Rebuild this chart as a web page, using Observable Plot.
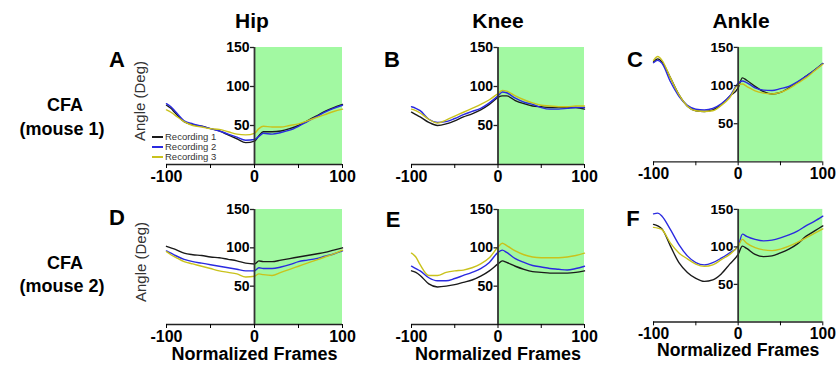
<!DOCTYPE html>
<html><head><meta charset="utf-8">
<script src="https://cdn.jsdelivr.net/npm/d3@7"></script>
<script src="https://cdn.jsdelivr.net/npm/@observablehq/plot@0.6"></script>
<style>
body{margin:0;background:#fff;}
#fig{position:relative;width:836px;height:368px;overflow:hidden;font-family:"Liberation Sans",Arial,sans-serif;font-weight:bold;color:#000;}
.lab{position:absolute;transform:translate(-50%,-50%);white-space:nowrap;line-height:1;}
.ylab{position:absolute;transform:translate(-50%,-50%) rotate(-90deg);white-space:nowrap;line-height:1;font-weight:normal;font-size:15px;color:#333;}
.panel{position:absolute;}
.leg{position:absolute;font-weight:normal;font-size:9.5px;color:#333;line-height:1;white-space:nowrap;}
.sw{position:absolute;height:1.5px;width:11px;}
</style></head><body><div id="fig"></div>
<script>
// ---- data ----
const frames = [-100,-95,-90,-80,-70,-60,-50,-40,-30,-20,-10,0,5,10,20,30,40,50,60,70,80,90,100];
const joints = ["Hip","Knee","Ankle"];
const mouseLabels = [["CFA","(mouse 1)"],["CFA","(mouse 2)"]];
const recordings = ["Recording 1","Recording 2","Recording 3"];
const panelLetters = [["A","B","C"],["D","E","F"]];
const xTicks = [-100,-50,0,50,100];
const xTickLabels = ["-100","","0","","100"];
const yTicks = [50,100,150];
const stimulusWindow = [0,100];
const angleDomain = [0,150];
const xLabel = "Normalized Frames";
const yLabel = "Angle (Deg)";

// Mouse 1
const hipM1R1   = [76,72,66,55,51,49,46,43,38,33,28,30,37,42,42,43,46,50,56,62,68,73,77];
const hipM1R2   = [78,74,68,56,52,49,46,43,39,35,31,32,36,40,39,41,44,49,55,61,67,72,76];
const hipM1R3   = [70,67,63,55,50,48,46,45,42,39,38,40,46,49,48,48,50,52,56,60,64,68,71];
const kneeM1R1  = [67,64,61,54,50,52,56,61,65,70,77,86,88,88,82,78,75,74,73,73,73,73,71];
const kneeM1R2  = [74,72,69,58,54,55,59,64,68,72,79,88,93,92,85,80,77,73,71,71,72,73,73];
const kneeM1R3  = [71,69,66,58,53,57,62,67,72,77,83,91,95,94,88,83,79,76,75,74,74,75,75];
const ankleM1R1 = [131,135,131,110,88,73,67,66,68,75,86,97,110,107,99,92,89,91,97,104,112,120,129];
const ankleM1R2 = [130,133,129,105,86,74,69,68,70,76,86,103,106,104,97,94,93.5,96,99,105,112,120,129];
const ankleM1R3 = [133,138,133,110,88,73,67,66,67,74,84,101,102,99,93,90,89,91,96,103,110,119,128];
// Mouse 2
const hipM2R1   = [102,100,98,93,91,90,88,87,85,83,80,79,83,82,82,84,86,88,90,92,94,97,100];
const hipM2R2   = [96,93,90,85,82,80,78,76,74,72,70,70,74,73,73,75,78,82,84,86,89,92,96];
const hipM2R3   = [95,91,88,82,79,76,73,70,68,66,62,63,66,65,64,68,72,76,80,84,88,92,97];
const kneeM2R1  = [70,68,64,53,49,50,52,55,58,63,70,79,83,81,76,72,69,68,67,67,67,68,70];
const kneeM2R2  = [76,73,70,61,57,57,60,64,68,73,81,94,97,94,86,81,77,75,73,72,71,73,76];
const kneeM2R3  = [93,88,78,64,64,68,70,71,74,79,87,101,106,103,96,91,88,87,87,87,88,90,93];
const ankleM2R1 = [130,128,124,101,79,66,58,54,56,64,77,90,101,98,90,87,88,92,97,104,114,121,128];
const ankleM2R2 = [144,145,141,123,103,88,79,76,79,85,92,101,117,114,110,108,109,112,116,121,128,134,141];
const ankleM2R3 = [126,125,123,105,92,84,77,74,76,83,90,101,110,105,99,96,95,97,101,106,112,118,124];

const seriesByPanel = [
  [[hipM1R1,hipM1R2,hipM1R3],[kneeM1R1,kneeM1R2,kneeM1R3],[ankleM1R1,ankleM1R2,ankleM1R3]],
  [[hipM2R1,hipM2R2,hipM2R3],[kneeM2R1,kneeM2R2,kneeM2R3],[ankleM2R1,ankleM2R2,ankleM2R3]]
];

// ---- styles / layout ----
const COLORS = ["#1a1a1a","#2a2ae0","#c9c21c"];
const GREEN = "#a2f9a2";
const colLeft = [166,411,654], colWidth = [176,173,173];
const rowTop = [47,209], rowHeight = [117,115];
const ML = 44, MR = 14, MT = 4, MB = 44;
const FONT = '"Liberation Sans", Arial, sans-serif';

const fig = document.getElementById("fig");

function addLabel(text, cx, cy, size, cls) {
  const d = document.createElement("div");
  d.className = cls || "lab";
  d.textContent = text;
  d.style.left = cx + "px"; d.style.top = cy + "px";
  if (size) d.style.fontSize = size + "px";
  fig.appendChild(d);
}

function panel(r, c) {
  const rows = [];
  seriesByPanel[r][c].forEach((vals, k) =>
    vals.forEach((v, i) => rows.push({frame: frames[i], angle: v, recording: recordings[k]})));
  const marks = [
    Plot.rect([{x1: stimulusWindow[0], x2: stimulusWindow[1], y1: angleDomain[0], y2: angleDomain[1]}],
      {x1: "x1", x2: "x2", y1: "y1", y2: "y2", fill: GREEN}),
    Plot.line(rows, {x: "frame", y: "angle", stroke: "recording", curve: "monotone-x", strokeWidth: 1.4}),
    Plot.ruleY([angleDomain[0]], {stroke: "#222", strokeWidth: 1.5}),
    Plot.ruleX([0], {y1: angleDomain[0], y2: angleDomain[1], stroke: "#333", strokeWidth: 1.8}),
    Plot.ruleY(yTicks, {x1: 0, x2: 0, insetLeft: -4, stroke: "#222", strokeWidth: 1.3}),
    Plot.text(yTicks, {x: 0, y: d => d, text: d => String(d), textAnchor: "end", dx: -5, fontSize: 14}),
    Plot.axisX({ticks: xTicks, tickSize: 4, tickPadding: 2, fontSize: 16, label: null,
      tickFormat: d => xTickLabels[xTicks.indexOf(d)]})
  ];
  if (r === 1) marks.push(Plot.text([xLabel], {frameAnchor: "bottom", dy: 35, fontSize: 18}));
  const p = Plot.plot({
    width: colWidth[c] + ML + MR,
    height: rowHeight[r] + MT + MB,
    marginLeft: ML, marginRight: MR, marginTop: MT, marginBottom: MB,
    x: {domain: [-100, 100], axis: null},
    y: {domain: angleDomain, axis: null},
    color: {domain: recordings, range: COLORS},
    style: `font-family: ${FONT}; font-weight: bold; overflow: visible; background: transparent; color: #000;`,
    marks
  });
  const wrap = document.createElement("div");
  wrap.className = "panel";
  wrap.style.left = (colLeft[c] - ML) + "px";
  wrap.style.top = (rowTop[r] - MT) + "px";
  wrap.appendChild(p);
  fig.appendChild(wrap);
}

for (let r = 0; r < 2; r++) for (let c = 0; c < 3; c++) panel(r, c);

// y-axis titles (first column)
addLabel(yLabel, 139, 101, null, "ylab");
addLabel(yLabel, 140, 262, null, "ylab");
// column titles
const titleX = [252, 498, 741];
joints.forEach((j, i) => addLabel(j, titleX[i], 20, 21));
// panel letters
const letterPos = [[[117,60],[392,60],[635,60]],[[117,218],[393,220],[633,219]]];
panelLetters.forEach((row, r) => row.forEach((L, c) => addLabel(L, letterPos[r][c][0], letterPos[r][c][1], 22)));
// row labels
const rowLabelY = [[105,129],[263,286]];
mouseLabels.forEach((lines, r) => {
  addLabel(lines[0], 65, rowLabelY[r][0], 18);
  addLabel(lines[1], 62, rowLabelY[r][1], 18);
});
// legend (panel A)
recordings.forEach((name, k) => {
  const y = 137 + k * 10;
  const sw = document.createElement("div");
  sw.className = "sw"; sw.style.left = "152px"; sw.style.top = (y - 0.75) + "px"; sw.style.background = COLORS[k];
  fig.appendChild(sw);
  const t = document.createElement("div");
  t.className = "leg"; t.textContent = name; t.style.left = "165px"; t.style.top = (y - 5) + "px";
  fig.appendChild(t);
});
</script></body></html>
